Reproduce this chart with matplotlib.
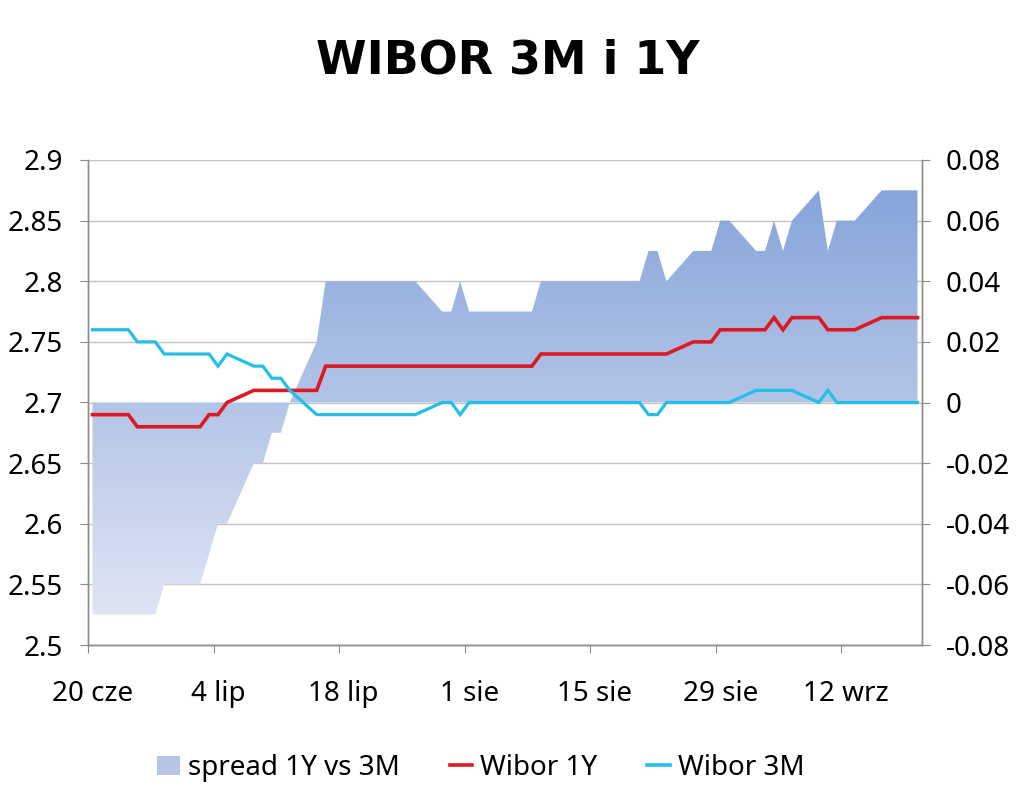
import numpy as np
import pandas as pd
import matplotlib
matplotlib.use("Agg")
import matplotlib.pyplot as plt
import matplotlib.dates as mdates
from matplotlib.colors import LinearSegmentedColormap
from matplotlib.patches import Patch
from matplotlib.lines import Line2D

plt.rcParams['font.family'] = ['Noto Sans', 'DejaVu Sans']

# fixing days 2013 (business days, 15 Aug is a holiday)
dates = pd.bdate_range("2013-06-20", "2013-09-20")
dates = dates[dates != pd.Timestamp("2013-08-15")]

wibor_3m = [
    2.76, 2.76,
    2.76, 2.75, 2.75, 2.75, 2.74,
    2.74, 2.74, 2.74, 2.73, 2.74,
    2.73, 2.73, 2.72, 2.72, 2.71,
    2.69, 2.69, 2.69, 2.69, 2.69,
    2.69, 2.69, 2.69, 2.69, 2.69,
    2.70, 2.70, 2.69, 2.70, 2.70,
    2.70, 2.70, 2.70, 2.70, 2.70,
    2.70, 2.70, 2.70, 2.70,
    2.70, 2.70, 2.69, 2.69, 2.70,
    2.70, 2.70, 2.70, 2.70, 2.70,
    2.71, 2.71, 2.71, 2.71, 2.71,
    2.70, 2.71, 2.70, 2.70, 2.70,
    2.70, 2.70, 2.70, 2.70, 2.70,
]
wibor_1y = [
    2.69, 2.69,
    2.69, 2.68, 2.68, 2.68, 2.68,
    2.68, 2.68, 2.69, 2.69, 2.70,
    2.71, 2.71, 2.71, 2.71, 2.71,
    2.71, 2.73, 2.73, 2.73, 2.73,
    2.73, 2.73, 2.73, 2.73, 2.73,
    2.73, 2.73, 2.73, 2.73, 2.73,
    2.73, 2.73, 2.73, 2.73, 2.74,
    2.74, 2.74, 2.74, 2.74,
    2.74, 2.74, 2.74, 2.74, 2.74,
    2.75, 2.75, 2.75, 2.76, 2.76,
    2.76, 2.76, 2.77, 2.76, 2.77,
    2.77, 2.76, 2.76, 2.76, 2.76,
    2.77, 2.77, 2.77, 2.77, 2.77,
]

tick_dates = pd.to_datetime(["2013-06-20", "2013-07-04", "2013-07-18", "2013-08-01",
                             "2013-08-15", "2013-08-29", "2013-09-12"])
tick_labels = ["20 cze", "4 lip", "18 lip", "1 sie", "15 sie", "29 sie", "12 wrz"]
left_ticks = [2.5, 2.55, 2.6, 2.65, 2.7, 2.75, 2.8, 2.85, 2.9]
left_labels = ["2.5", "2.55", "2.6", "2.65", "2.7", "2.75", "2.8", "2.85", "2.9"]
right_ticks = [-0.08, -0.06, -0.04, -0.02, 0, 0.02, 0.04, 0.06, 0.08]
right_labels = ["-0.08", "-0.06", "-0.04", "-0.02", "0", "0.02", "0.04", "0.06", "0.08"]

w3 = np.array(wibor_3m)
w1 = np.array(wibor_1y)
spread = w1 - w3

# each day is one slot on the date axis, points sit in the middle of it
x = mdates.date2num(dates) + 0.5
xmin = mdates.date2num(dates[0])
xmax = mdates.date2num(dates[-1]) + 1

grid_c = "#c3c3c3"
axis_c = "#8c8c8c"
red = "#dc1a22"
cyan = "#22bfe6"

fig = plt.figure(figsize=(10.24, 7.91), dpi=100)
ax = fig.add_axes([88 / 1024, 1 - 645 / 791, (922 - 88) / 1024, 485 / 791])
ax2 = ax.twinx()
ax.set_zorder(ax2.get_zorder() + 1)
ax.patch.set_visible(False)

# spread area with vertical gradient
poly = ax2.fill_between(x, 0, spread, color="none", lw=0)
cmap = LinearSegmentedColormap.from_list("sp", ["#e0e5f4", "#86a5da"])
grad = np.linspace(0, 1, 256).reshape(-1, 1)
img = ax2.imshow(grad, cmap=cmap, aspect="auto", origin="lower",
                 extent=[x[0], x[-1], spread.min(), spread.max()], zorder=2)
img.set_clip_path(poly.get_paths()[0], ax2.transData)

ax2.set_ylim(-0.08, 0.08)
ax2.set_yticks(right_ticks)
ax2.set_yticklabels(right_labels)
ax2.yaxis.grid(True, color=grid_c, lw=1)
ax2.set_axisbelow(True)

ax.plot(x, w1, color=red, lw=2.6, solid_joinstyle="miter")
ax.plot(x, w3, color=cyan, lw=2.3, solid_joinstyle="miter")
ax.set_ylim(2.5, 2.9)
ax.set_yticks(left_ticks)
ax.set_yticklabels(left_labels)
ax.set_xlim(xmin, xmax)

tpos = mdates.date2num(tick_dates)
ax.set_xticks(tpos)
ax.set_xticklabels([])
ax.set_xticks(tpos + 0.5, minor=True)
ax.set_xticklabels(tick_labels, minor=True)
ax.tick_params(axis="x", which="major", direction="out", length=6, color=axis_c)
ax.tick_params(axis="x", which="minor", length=0, labelsize=20, pad=25)
ax.tick_params(axis="y", direction="out", length=6, color=axis_c, labelsize=20, pad=12)
ax2.tick_params(axis="y", direction="out", length=6, color=axis_c, labelsize=20, pad=11)

for a in (ax, ax2):
    a.spines["top"].set_visible(False)
    for s in ("left", "right", "bottom"):
        a.spines[s].set_color(axis_c)
        a.spines[s].set_linewidth(1)

fig.text(0.4956, 1 - 61 / 791, "WIBOR 3M i 1Y", ha="center", va="center",
         fontsize=33, fontweight="bold", family="DejaVu Sans")

handles = [Patch(facecolor="#b6c5e7", edgecolor="none"),
           Line2D([], [], color=red, lw=2.6),
           Line2D([], [], color=cyan, lw=2.6)]
fig.legend(handles, ["spread 1Y vs 3M", "Wibor 1Y", "Wibor 3M"], loc="center",
           bbox_to_anchor=(481 / 1024, 1 - 768 / 791), ncol=3, frameon=False,
           fontsize=20, handlelength=0.8, handleheight=0.7, handletextpad=0.3,
           columnspacing=1.8)

fig.savefig("out.png", dpi=100)
